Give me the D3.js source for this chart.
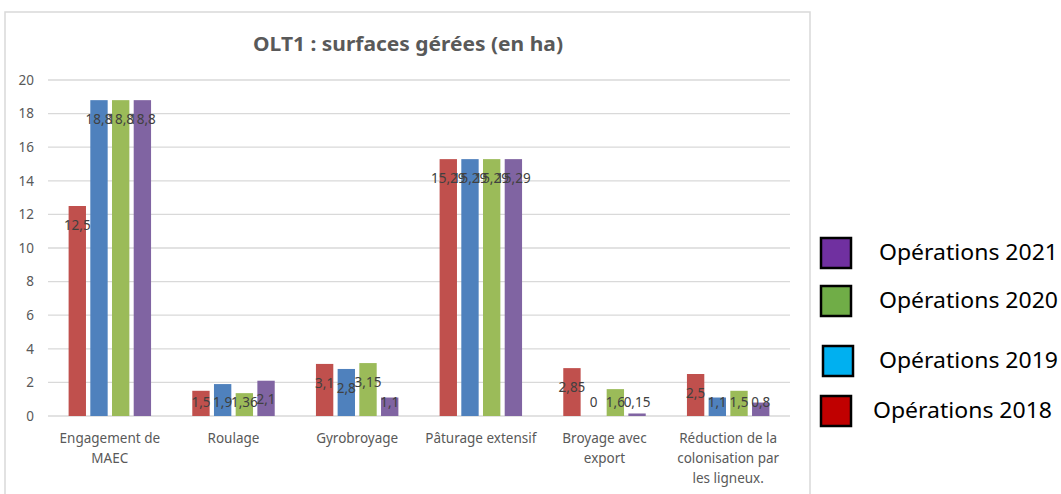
<!DOCTYPE html>
<html><head><meta charset="utf-8">
<script src="https://cdn.jsdelivr.net/npm/d3@7"></script>
<style>body{margin:0;background:#fff;}svg{display:block;font-family:"Noto Sans","Open Sans",sans-serif;}</style>
</head><body>
<svg id="c" width="1061" height="494"></svg>
<script>
const categories = [["Engagement de","MAEC"],["Roulage"],["Gyrobroyage"],["Pâturage extensif"],["Broyage avec","export"],["Réduction de la","colonisation par","les ligneux."]];
const seriesNames = ["Opérations 2018","Opérations 2019","Opérations 2020","Opérations 2021"];
const v2018 = [12.5, 1.5, 3.1, 15.29, 2.85, 2.5];
const v2019 = [18.8, 1.9, 2.8, 15.29, 0, 1.1];
const v2020 = [18.8, 1.36, 3.15, 15.29, 1.6, 1.5];
const v2021 = [18.8, 2.1, 1.1, 15.29, 0.15, 0.8];
const yTicks = [0,2,4,6,8,10,12,14,16,18,20];
const barColors = ["#C0504D","#4F81BD","#9BBB59","#8064A2"];
const legendOrder = ["Opérations 2021","Opérations 2020","Opérations 2019","Opérations 2018"];
const legendColors = ["#7030A0","#70AD47","#00B0F0","#C00000"];

const series = [v2018, v2019, v2020, v2021];
const svg = d3.select("#c");

// frame
svg.append("rect").attr("x",5).attr("y",12).attr("width",805).attr("height",500)
  .attr("fill","none").attr("stroke","#D9D9D9").attr("stroke-width",1.5);

const x0 = d3.scaleBand().domain(d3.range(categories.length)).range([48,790]).paddingInner(0).paddingOuter(0);
const x1 = d3.scaleBand().domain(d3.range(series.length)).range([0, x0.bandwidth()]).paddingInner(0.2).paddingOuter(0.95);
const y = d3.scaleLinear().domain([0,20]).range([416,80]);

// grid
svg.append("g").selectAll("line").data(yTicks).join("line")
  .attr("x1",48).attr("x2",790).attr("y1",d=>y(d)).attr("y2",d=>y(d))
  .attr("stroke","#D9D9D9").attr("stroke-width",1.3);

// y axis labels
const yAxis = d3.axisLeft(y).tickValues(yTicks).tickSize(0).tickPadding(0).tickFormat(d3.format("d"));
const ya = svg.append("g").attr("transform","translate(34,0)").call(yAxis);
ya.select(".domain").remove();
ya.selectAll("text").attr("fill","#595959").style("font-size","13.5px").style("font-family","Noto Sans, sans-serif");

// bars
series.forEach((s,si)=>{
  svg.append("g").selectAll("rect").data(s).join("rect")
    .attr("x",(d,i)=>x0(i)+x1(si)).attr("width",x1.bandwidth())
    .attr("y",d=>y(d)).attr("height",d=>y(0)-y(d))
    .attr("fill",barColors[si]);
});
// labels
const fmt = d => String(d).replace(".",",");
series.forEach((s,si)=>{
  svg.append("g").selectAll("text").data(s).join("text")
    .attr("x",(d,i)=>x0(i)+x1(si)+x1.bandwidth()/2)
    .attr("y",d=>Math.min(y(d)+19, 402))
    .attr("dy","0.35em").attr("text-anchor","middle")
    .attr("fill","#404040").style("font-size","13.5px").text(d=>fmt(d));
});

// category labels
const xa = svg.append("g");
categories.forEach((lines,i)=>{
  const t = xa.append("text").attr("x",x0(i)+x0.bandwidth()/2).attr("y",443)
    .attr("text-anchor","middle").attr("fill","#595959").style("font-size","13.5px");
  lines.forEach((l,j)=>t.append("tspan").attr("x",x0(i)+x0.bandwidth()/2).attr("dy",j?20:0).text(l));
});

// title
svg.append("text").attr("x",408).attr("y",51).attr("text-anchor","middle")
  .attr("fill","#595959").style("font-size","20px").style("font-weight","bold")
  .attr("textLength",310).attr("lengthAdjust","spacingAndGlyphs")
  .text("OLT1 : surfaces gérées (en ha)");

// legend
const legY = [253, 301, 361, 411];
const legX = [821, 821, 823, 821];
const legTX = [879, 879, 879, 873];
legendOrder.forEach((n,i)=>{
  svg.append("rect").attr("x",legX[i]).attr("y",legY[i]-15).attr("width",30).attr("height",30)
    .attr("fill",legendColors[i]).attr("stroke","#000").attr("stroke-width",2.5);
  svg.append("text").attr("x",legTX[i]).attr("y",legY[i]).attr("dy","0.35em")
    .attr("fill","#000").style("font-size","21px")
    .attr("textLength",179).attr("lengthAdjust","spacingAndGlyphs").text(n);
});
</script>
</body></html>
